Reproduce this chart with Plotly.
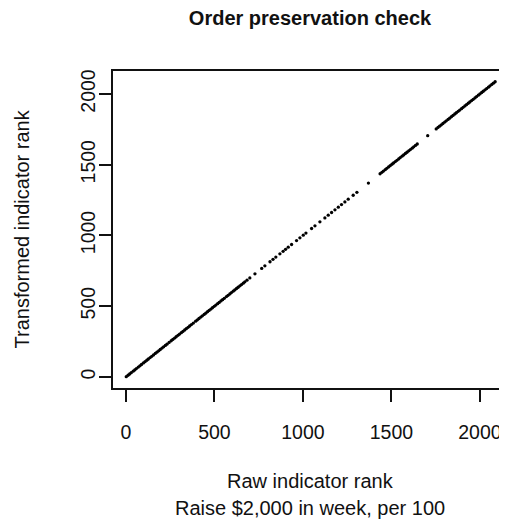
import plotly.graph_objects as go

# Ranks (raw rank on x, transformed rank on y)
raw_rank = [
    2, 12, 21, 30, 41, 50, 59, 70, 79, 88, 99, 108, 118, 127, 137, 146, 156, 166,
    175, 185, 194, 204, 213, 223, 232, 244, 256, 265, 275, 284, 294, 303, 313, 322,
    332, 341, 351, 360, 370, 381, 394, 404, 413, 423, 432, 442, 451, 461, 470, 480,
    489, 499, 508, 518, 527, 537, 546, 556, 568, 577, 587, 596, 606, 615, 625, 634,
    644, 653, 663, 672, 684,
    700, 729, 767, 785, 814, 831, 847, 870, 888, 902, 917, 936, 964, 983, 1002,
    1017, 1049, 1068, 1096, 1124, 1143, 1162, 1181, 1200, 1218, 1237, 1256, 1284,
    1305,
    1370,
    1436, 1446, 1455, 1465, 1474, 1484, 1493, 1503, 1512, 1522, 1531, 1541, 1550,
    1560, 1569, 1579, 1588, 1598, 1607, 1617, 1626, 1636, 1646,
    1705,
    1753, 1763, 1772, 1782, 1791, 1801, 1810, 1820, 1829, 1839, 1848, 1858, 1867,
    1877, 1886, 1896, 1905, 1915, 1924, 1934, 1943, 1953, 1962, 1972, 1981, 1991,
    2000, 2010, 2019, 2029, 2038, 2048, 2057, 2067, 2076, 2086,
]
# order is preserved, so the transformed ranks equal the raw ones
transformed_rank = list(raw_rank)

tick_vals = [0, 500, 1000, 1500, 2000]
tick_text = ["0", "500", "1000", "1500", "2000"]

FONT = "Liberation Sans, Arial, Helvetica, sans-serif"
INK = "#111111"

fig = go.Figure()
fig.add_trace(go.Scatter(
    x=raw_rank,
    y=transformed_rank,
    mode="markers",
    marker=dict(size=3.3, color="black"),
    showlegend=False,
    hoverinfo="x+y",
))

# the page body has an 8px margin, so the figure is 8px smaller each way
fig.update_layout(
    width=499,
    height=517,
    margin=dict(l=105, r=0, t=63, b=137),
    paper_bgcolor="white",
    plot_bgcolor="white",
    font=dict(family=FONT, size=20, color=INK),
    title=dict(
        text="<b>Order preservation check</b>",
        x=302 / 499, xanchor="center",
        y=1 - 10 / 517, yanchor="middle",
        font=dict(size=20, color=INK),
    ),
    xaxis=dict(
        range=[-73, 2153],
        tickvals=tick_vals, ticktext=tick_text,
        ticks="outside", ticklen=12, tickwidth=2, tickcolor=INK,
        showline=True, linewidth=2, linecolor=INK, mirror=True,
        showgrid=False, zeroline=False,
        ticklabelstandoff=14,
        tickfont=dict(size=19.5),
    ),
    yaxis=dict(
        range=[-78, 2162],
        tickvals=tick_vals, ticktext=tick_text,
        ticks="outside", ticklen=12, tickwidth=2, tickcolor=INK,
        showline=True, linewidth=2, linecolor=INK,
        showgrid=False, zeroline=False,
        tickangle=-90,
        ticklabelstandoff=-4,
        tickfont=dict(size=19.5),
    ),
    annotations=[
        dict(text="Raw indicator rank", xref="paper", yref="paper",
             x=0.5, y=(388 - 481) / 317, xanchor="center", yanchor="middle",
             showarrow=False, font=dict(size=20)),
        dict(text="Raise $2,000 in week, per 100", xref="paper", yref="paper",
             x=0.5, y=(388 - 508) / 317, xanchor="center", yanchor="middle",
             showarrow=False, font=dict(size=20)),
        dict(text="Transformed indicator rank", xref="paper", yref="paper",
             x=(21 - 113) / 394, y=0.5, xanchor="center", yanchor="middle",
             textangle=-90, showarrow=False, font=dict(size=20)),
    ],
)

fig.write_html("out.html")
